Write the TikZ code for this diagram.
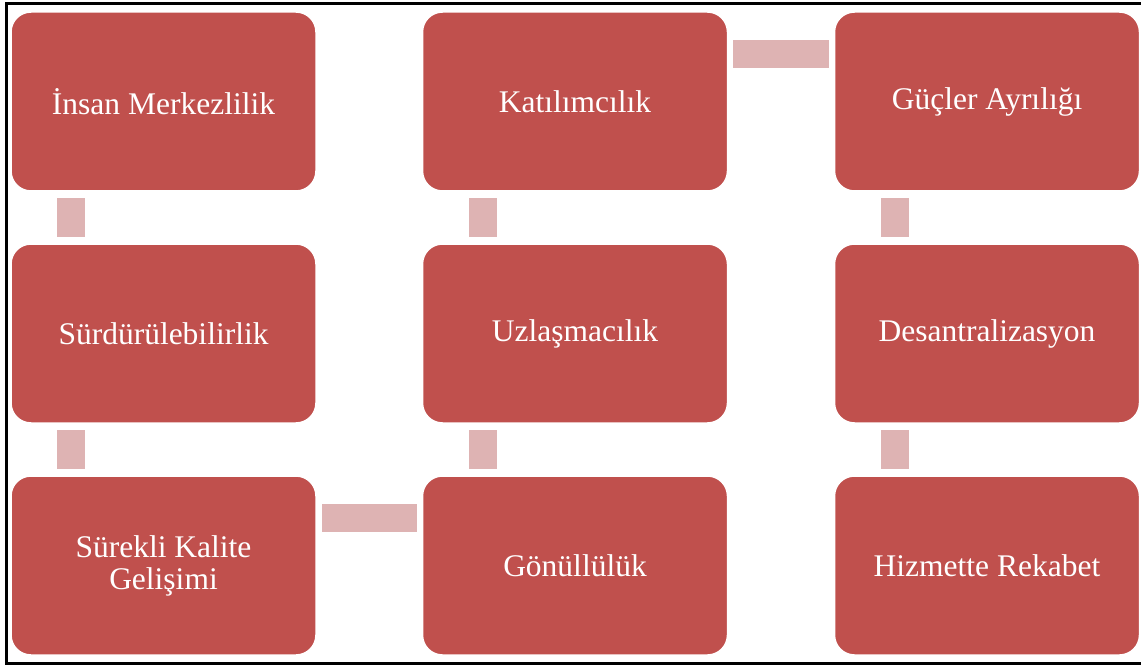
\documentclass[tikz,border=0pt]{standalone}
\usepackage{fontspec}
\setmainfont{Liberation Serif}
\usetikzlibrary{calc}
\definecolor{boxred}{HTML}{C0504D}
\definecolor{linkpink}{HTML}{DEB3B3}
\tikzset{
  stepbox/.style={fill=boxred, draw=white, line width=1.5pt, rounded corners=20pt,
    minimum width=305pt, minimum height=179pt, inner sep=0pt, text=white,
    align=center, font=\fontsize{31.5}{32}\selectfont},
  link/.style={fill=linkpink, draw=none}
}
\begin{document}
\begin{tikzpicture}[x=1pt,y=-1pt]
\useasboundingbox (0,0) rectangle (1141,666);
\fill[white] (0,0) rectangle (1141,666);
\begin{scope}
\clip (0,0) rectangle (1141,666);
\draw[black, line width=2.2pt] (6.5,3.5) rectangle (1145,663.5);
\end{scope}
% boxes
\node[stepbox] (a1) at (163.5,101.5) {İnsan Merkezlilik};
\node[stepbox] (a2) at (163.5,333.5) {Sürdürülebilirlik};
\node[stepbox] (a3) at (163.5,565.5) {Sürekli Kalite\\Gelişimi};
\node[stepbox] (b3) at (575,565.5) {Gönüllülük};
\node[stepbox] (b2) at (575,333.5) {Uzlaşmacılık};
\node[stepbox] (b1) at (575,101.5) {Katılımcılık};
\node[stepbox] (c1) at (987,101.5) {Güçler Ayrılığı};
\node[stepbox] (c2) at (987,333.5) {Desantralizasyon};
\node[stepbox] (c3) at (987,565.5) {Hizmette Rekabet};
% connectors
\fill[link] ($(a1.south west)+(47,6)$) rectangle ($(a2.north west)+(75,-6)$);
\fill[link] ($(a2.south west)+(47,6)$) rectangle ($(a3.north west)+(75,-6)$);
\fill[link] ($(a3.north east)+(5,29)$) rectangle ($(b3.north west)+(-5,57)$);
\fill[link] ($(b3.north west)+(47,-6)$) rectangle ($(b2.south west)+(75,6)$);
\fill[link] ($(b2.north west)+(47,-6)$) rectangle ($(b1.south west)+(75,6)$);
\fill[link] ($(b1.north east)+(5,29)$) rectangle ($(c1.north west)+(-5,57)$);
\fill[link] ($(c1.south west)+(47,6)$) rectangle ($(c2.north west)+(75,-6)$);
\fill[link] ($(c2.south west)+(47,6)$) rectangle ($(c3.north west)+(75,-6)$);
\end{tikzpicture}
\end{document}
